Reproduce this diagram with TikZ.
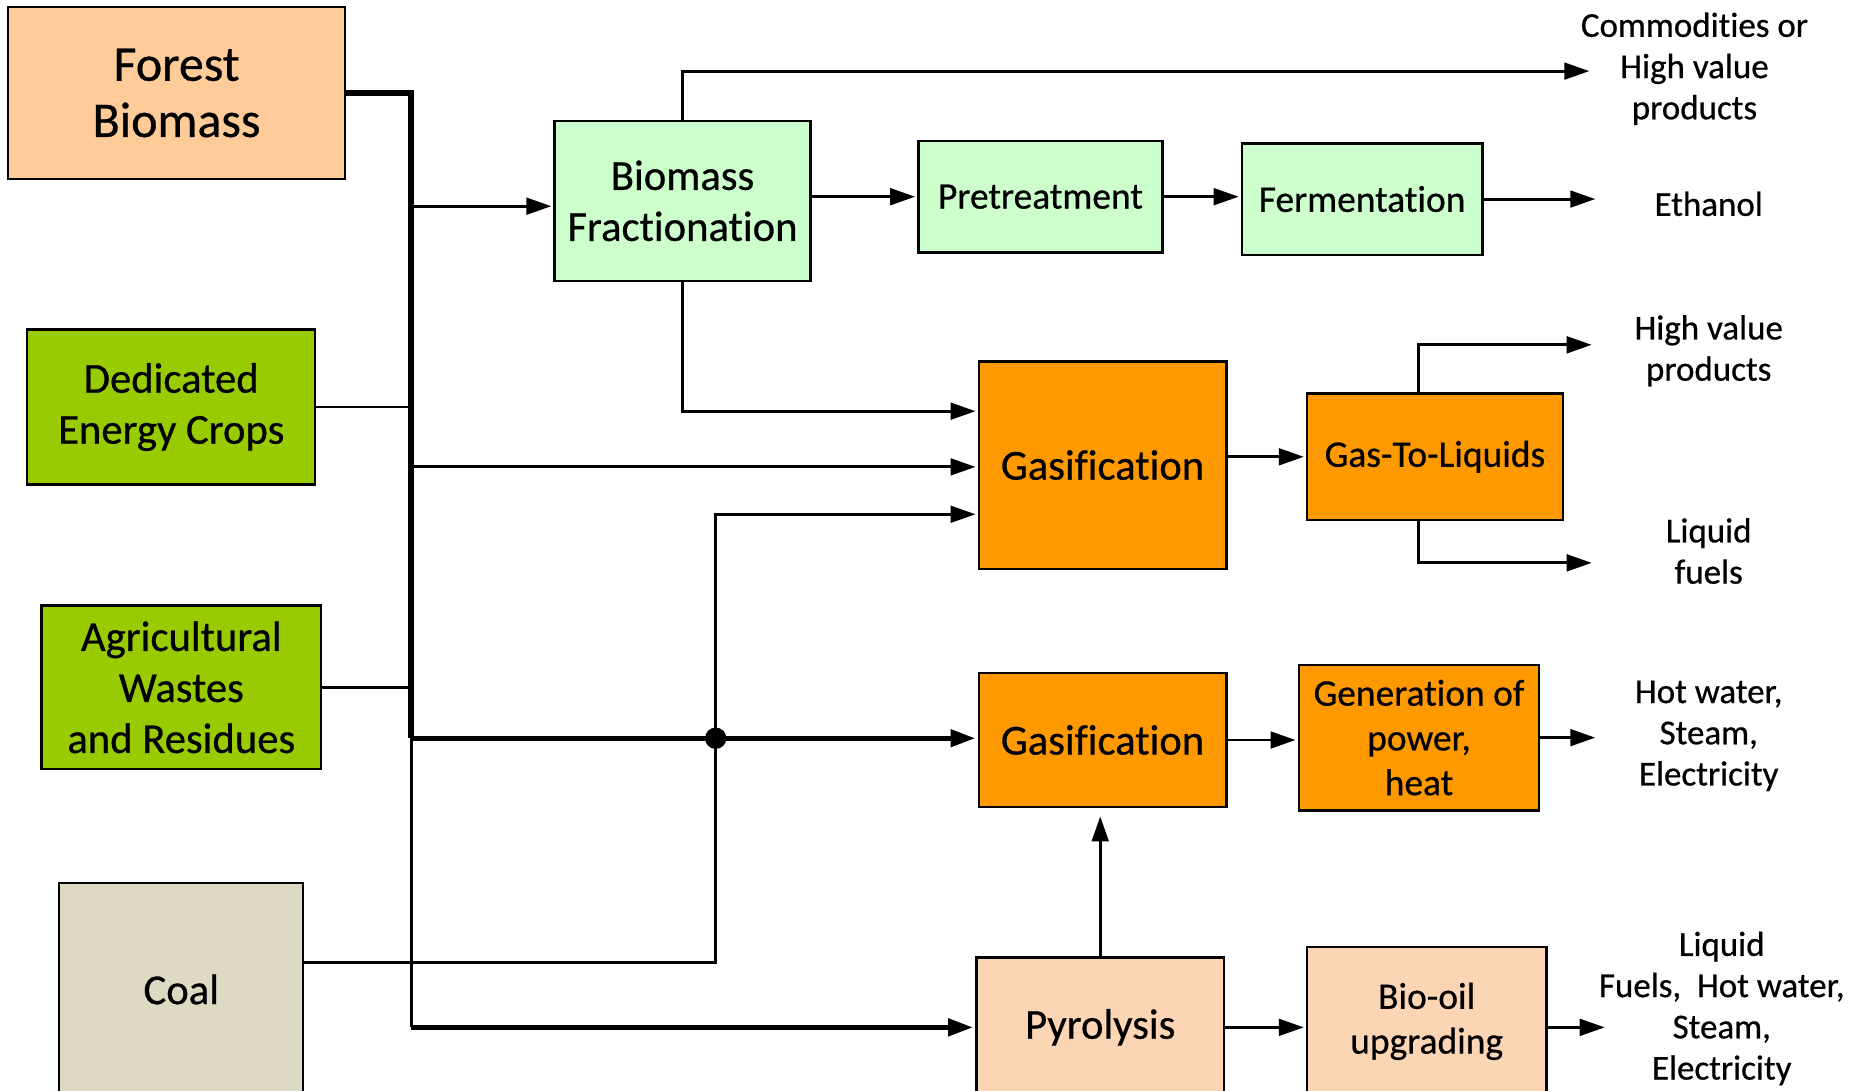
\documentclass[tikz,border=0pt]{standalone}
\usepackage{fontspec}
\setmainfont{Carlito}[Ligatures=NoCommon, FakeBold=0.6]
\usetikzlibrary{arrows.meta}
\definecolor{cForest}{HTML}{FFCC99}
\definecolor{cGreen}{HTML}{99CC00}
\definecolor{cCoal}{HTML}{DDD9C3}
\definecolor{cLight}{HTML}{CCFFCC}
\definecolor{cOrange}{HTML}{FF9900}
\definecolor{cPyro}{HTML}{FCD5B4}
\newcommand\fsBig{\fontsize{24}{27}\selectfont}
\newcommand\fsBox{\fontsize{20.5}{24.5}\selectfont}
\newcommand\fsSmall{\fontsize{18}{21.5}\selectfont}
\newcommand\fsLab{\fontsize{16.8}{19.8}\selectfont}
\begin{document}
\begin{tikzpicture}[x=0.02cm,y=-0.02cm,
  box/.style={draw, line width=1.1pt, align=center, inner sep=0pt},
  thin/.style={line width=1.4pt},
  heavy/.style={line width=2.6pt},
  arr/.style={-{Triangle[length=12pt,width=8pt]}, shorten >=1pt},
  lab/.style={align=center, font=\fsLab, inner sep=0pt}]
\useasboundingbox (0,0) rectangle (1568,920);

% sources
\node[box, fill=cForest, minimum width=5.68cm, minimum height=2.9cm, font=\fsBig] (fb) at (149,78.5) {Forest\\Biomass};
\node[box, fill=cGreen, minimum width=4.86cm, minimum height=2.62cm, font=\fsBox] (dec) at (144.5,343.5) {Dedicated\\Energy Crops};
\node[box, fill=cGreen, minimum width=4.72cm, minimum height=2.76cm, font=\fsBox] (agr) at (153,580) {Agricultural\\Wastes\\and Residues};
\node[box, fill=cCoal, minimum width=4.12cm, minimum height=3.6cm, font=\fsBox] (coal) at (153,835) {Coal};

% processes
\node[box, fill=cLight, minimum width=4.32cm, minimum height=2.7cm, font=\fsBox] (bf) at (576,169.5) {Biomass\\Fractionation};
\node[box, fill=cLight, minimum width=4.12cm, minimum height=1.88cm, font=\fsSmall] (pre) at (878,166) {Pretreatment};
\node[box, fill=cLight, minimum width=4.06cm, minimum height=1.88cm, font=\fsSmall] (fer) at (1149.5,168) {Fermentation};
\node[box, fill=cOrange, minimum width=4.18cm, minimum height=3.5cm, font=\fsBox] (gas1) at (930.5,392.5) {Gasification};
\node[box, fill=cOrange, minimum width=4.32cm, minimum height=2.14cm, font=\fsSmall] (gtl) at (1211,385.5) {Gas-To-Liquids};
\node[box, fill=cOrange, minimum width=4.18cm, minimum height=2.26cm, font=\fsBox] (gas2) at (930.5,624.5) {Gasification};
\node[box, fill=cOrange, minimum width=4.06cm, minimum height=2.46cm, font=\fsSmall] (gen) at (1197.5,622.5) {Generation of\\power,\\heat};
\node[box, fill=cPyro, minimum width=4.18cm, minimum height=2.36cm, font=\fsBox] (pyr) at (928.5,867) {Pyrolysis};
\node[box, fill=cPyro, minimum width=4.04cm, minimum height=2.52cm, font=\fsSmall] (bio) at (1204,862) {Bio-oil\\upgrading};

% outputs
\node[lab] (comm) at (1430,58) {Commodities or\\High value\\products};
\node[lab] (eth) at (1442,172) {Ethanol};
\node[lab] (hvp) at (1442,296) {High value\\products};
\node[lab] (lf) at (1442,465) {Liquid\\fuels};
\node[lab] (hw) at (1442,621) {Hot water,\\Steam,\\Electricity};
\node[lab] (lfh) at (1453,851) {Liquid\\Fuels,~~Hot water,\\Steam,\\Electricity};

% bus
\coordinate (bM) at (347,623);
\coordinate (bB) at (347,867);
\coordinate (j1) at (347,174);
\coordinate (j2) at (347,394);
\draw[heavy] (fb.east) -- (fb.east -| bM) -- (bM);
\draw[thin] (bM) -- (bB);
\draw[heavy, arr] (bB) -- (pyr.west);
\draw[thin, arr] (j1) -- (j1 -| bf.west);
\draw[thin] (dec.east) -- (dec.east -| bM);
\draw[thin, arr] (j2) -- (j2 -| gas1.west);
\draw[thin] (agr.east) -- (agr.east -| bM);
\draw[heavy, arr] (bM) -- (bM -| gas2.west);

% coal
\coordinate (c1) at (604,812);
\coordinate (c2) at (604,434);
\draw[thin, arr] (coal.east |- c1) -- (c1) -- (c2) -- (c2 -| gas1.west);
\node[circle, fill, minimum size=0.36cm, inner sep=0pt] (dot) at (604,623) {};

% fractionation
\coordinate (f0) at (576,60);
\coordinate (f1) at (576,347);
\coordinate (commA) at (1343,60);
\draw[thin, arr] (bf.north) -- (f0) -- (commA);
\draw[thin, arr] (bf.south) -- (f1) -- (f1 -| gas1.west);
\draw[thin, arr] (bf.east |- pre.west) -- (pre.west);
\draw[thin, arr] (pre.east) -- (pre.east -| fer.west);
\coordinate (ethA) at (1348,168);
\draw[thin, arr] (fer.east) -- (ethA);

% gasification 1
\draw[thin, arr] (gas1.east |- gtl.west) -- (gtl.west);
\coordinate (g1) at (1197,291);
\coordinate (g2) at (1197,475);
\coordinate (hvpA) at (1345,291);
\coordinate (lfA) at (1345,475);
\draw[thin, arr] (g1 |- gtl.north) -- (g1) -- (hvpA);
\draw[thin, arr] (g2 |- gtl.south) -- (g2) -- (lfA);

% gasification 2
\draw[thin, arr] (gas2.east) -- (gas2.east -| gen.west);
\coordinate (hwA) at (1348,622.5);
\draw[thin, arr] (gen.east) -- (hwA);

% pyrolysis
\draw[thin, arr, shorten >=0.14cm] (pyr.north) -- (pyr.north |- gas2.south);
\draw[thin, arr] (pyr.east) -- (pyr.east -| bio.west);
\coordinate (lfhA) at (1356,867);
\draw[thin, arr] (bio.east |- lfhA) -- (lfhA);
\end{tikzpicture}
\end{document}
